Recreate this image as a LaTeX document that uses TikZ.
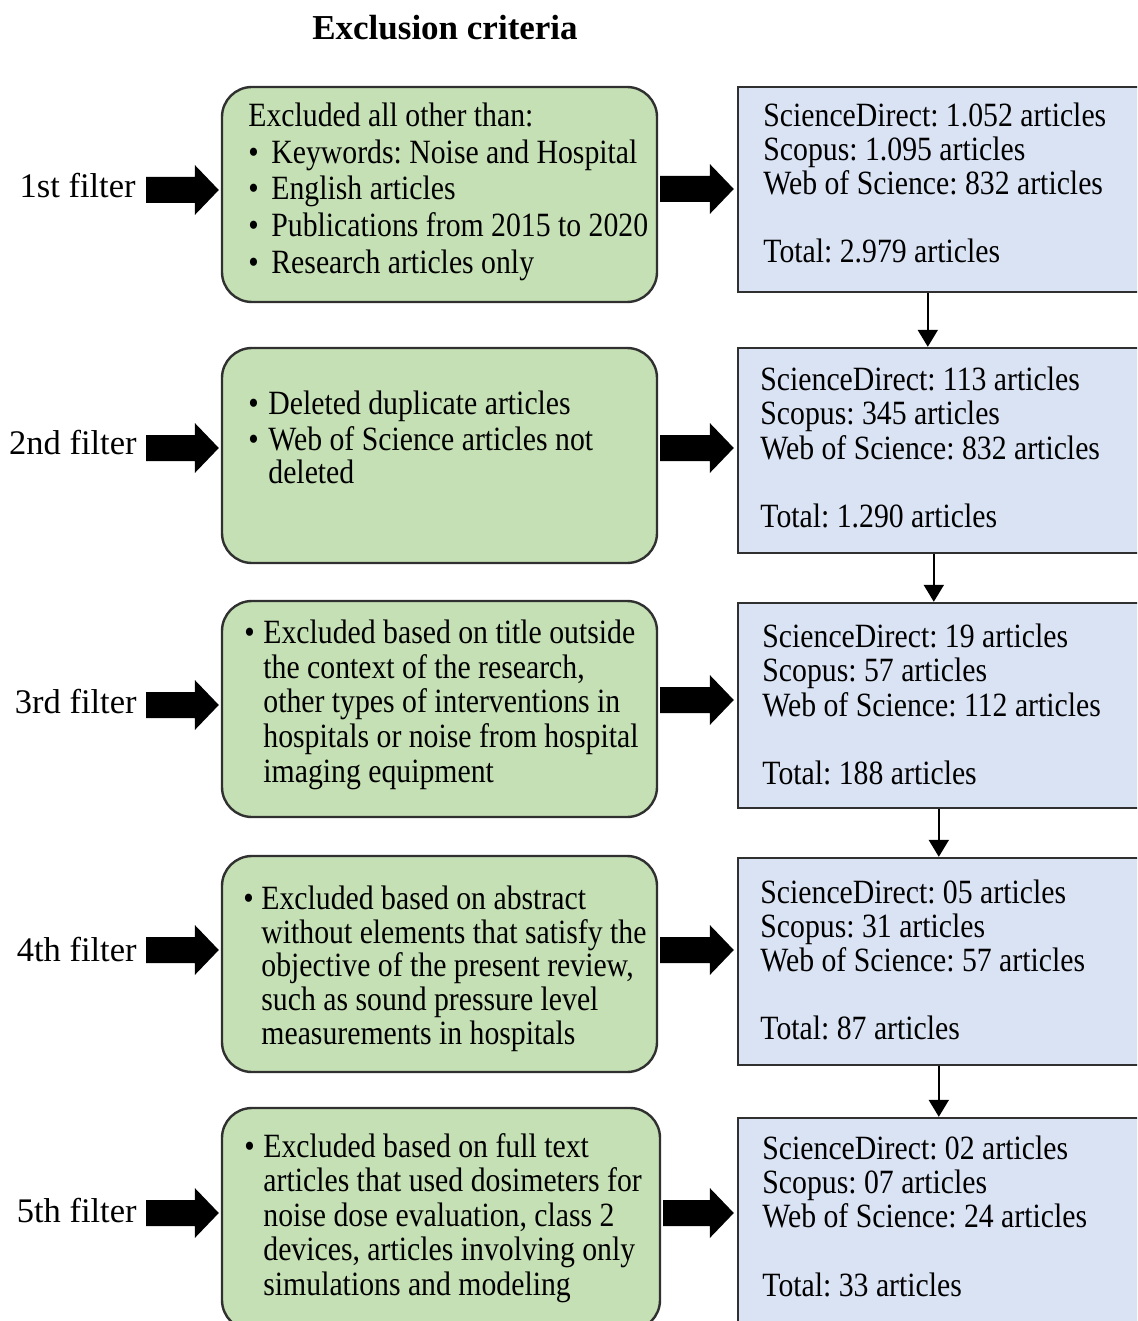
\documentclass[tikz,border=0pt]{standalone}
\usepackage{fontspec}
\setmainfont{Liberation Serif}
\newfontfamily\bodyf[FakeStretch=0.875]{Liberation Serif}
\usetikzlibrary{fit,calc,arrows.meta}
\definecolor{gfill}{HTML}{C5E0B4}
\definecolor{bfill}{HTML}{DAE3F3}
\definecolor{edgec}{HTML}{303030}
\frenchspacing
\newcommand\tst{\rule{0pt}{12.75pt}}
\newcommand\bul[1]{\makebox[#1][l]{•}}
\newcommand\bodyat[1]{\bodyf\fontsize{17}{#1}\selectfont\frenchspacing}
\newcommand\blkarr[2]{\fill[black] ($(#1)+(0,-13)$) -- ($(#2)+(-24,-13)$) -- ($(#2)+(-24,-25)$) -- (#2) -- ($(#2)+(-24,25)$) -- ($(#2)+(-24,13)$) -- ($(#1)+(0,13)$) -- cycle;}
\begin{document}
\begin{tikzpicture}[x=0.5pt,y=-0.5pt,
  gbox/.style={draw=edgec, line width=1.2pt, fill=gfill, rounded corners=15pt, inner sep=0pt},
  bbox/.style={draw=edgec, line width=1.2pt, fill=bfill, inner sep=0pt},
  txt/.style={anchor=north west, inner sep=0pt, align=left, yshift=12.75pt},
  lab/.style={anchor=base east, inner sep=0pt, font=\fontsize{17.25}{20}\selectfont},
  varr/.style={line width=1pt, draw=black, -{Triangle[length=8.5pt,width=10pt]}}]
\useasboundingbox (0,0) rectangle (1137,1321);
\clip (0,0) rectangle (1137,1321);
\fill[white] (0,0) rectangle (1137,1321);

% title
\node[anchor=base, inner sep=0pt, font=\bfseries\fontsize{17.5}{20}\selectfont] (title) at (445,40) {Exclusion criteria};

% boxes
\node[gbox, fit={(222,87) (657,302)}] (g1) {};
\node[gbox, fit={(222,348) (657,563)}] (g2) {};
\node[gbox, fit={(222,601) (657,817)}] (g3) {};
\node[gbox, fit={(222,856) (657,1072)}] (g4) {};
\node[gbox, fit={(222,1108) (660,1330)}] (g5) {};

\node[bbox, fit={(738,87) (1160,292)}] (b1) {};
\node[bbox, fit={(738,348) (1160,553)}] (b2) {};
\node[bbox, fit={(738,603) (1160,808)}] (b3) {};
\node[bbox, fit={(738,858) (1160,1065)}] (b4) {};
\node[bbox, fit={(738,1118) (1160,1360)}] (b5) {};

% labels
\node[lab] (l1) at (136,198) {1st filter};
\node[lab] (l2) at (137,454) {2nd filter};
\node[lab] (l3) at (137,713) {3rd filter};
\node[lab] (l4) at (137,961) {4th filter};
\node[lab] (l5) at (137,1222) {5th filter};

% green texts
\node[txt, font=\bodyat{18.375pt}] (t1) at (248,126) {\tst Excluded all other than:\\\bul{11.5pt}Keywords: Noise and Hospital\\\bul{11.5pt}English articles\\\bul{11.5pt}Publications from 2015 to 2020\\\bul{11.5pt}Research articles only};
\node[txt, font=\bodyat{16.25pt}] (t2) at (248,414) {\tst\bul{10pt}Deleted duplicate articles\\[2pt]\bul{10pt}Web of Science articles not\\\hspace*{10pt}deleted};
\node[txt, font=\bodyat{17.375pt}] (t3) at (244,643) {\tst\bul{9.5pt}Excluded based on title outside\\\hspace*{9.5pt}the context of the research,\\\hspace*{9.5pt}other types of interventions in\\\hspace*{9.5pt}hospitals or noise from hospital\\\hspace*{9.5pt}imaging equipment};
\node[txt, font=\bodyat{16.875pt}] (t4) at (243,909) {\tst\bul{9pt}Excluded based on abstract\\\hspace*{9pt}without elements that satisfy the\\\hspace*{9pt}objective of the present review,\\\hspace*{9pt}such as sound pressure level\\\hspace*{9pt}measurements in hospitals};
\node[txt, font=\bodyat{17.25pt}] (t5) at (244,1157) {\tst\bul{9.5pt}Excluded based on full text\\\hspace*{9.5pt}articles that used dosimeters for\\\hspace*{9.5pt}noise dose evaluation, class 2\\\hspace*{9.5pt}devices, articles involving only\\\hspace*{9.5pt}simulations and modeling};

% blue texts
\node[txt, font=\bodyat{17pt}] (s1) at (763,126) {\tst ScienceDirect: 1.052 articles\\Scopus: 1.095 articles\\Web of Science: 832 articles\\[17pt]Total: 2.979 articles};
\node[txt, font=\bodyat{17.15pt}] (s2) at (760,390) {\tst ScienceDirect: 113 articles\\Scopus: 345 articles\\Web of Science: 832 articles\\[17.15pt]Total: 1.290 articles};
\node[txt, font=\bodyat{17.15pt}] (s3) at (762,647) {\tst ScienceDirect: 19 articles\\Scopus: 57 articles\\Web of Science: 112 articles\\[17.15pt]Total: 188 articles};
\node[txt, font=\bodyat{17pt}] (s4) at (760,903) {\tst ScienceDirect: 05 articles\\Scopus: 31 articles\\Web of Science: 57 articles\\[17pt]Total: 87 articles};
\node[txt, font=\bodyat{17.1pt}] (s5) at (762,1159) {\tst ScienceDirect: 02 articles\\Scopus: 07 articles\\Web of Science: 24 articles\\[17.1pt]Total: 33 articles};

% block arrow anchors
\coordinate (la1) at (146,190);
\coordinate (la2) at (146,448);
\coordinate (la3) at (146,705);
\coordinate (la4) at (146,950);
\coordinate (la5) at (146,1213);
\path (la1 -| g1.west) ++(-2,0) coordinate (le1);
\path (la2 -| g2.west) ++(-2,0) coordinate (le2);
\path (la3 -| g3.west) ++(-2,0) coordinate (le3);
\path (la4 -| g4.west) ++(-2,0) coordinate (le4);
\path (la5 -| g5.west) ++(-2,0) coordinate (le5);
\blkarr{la1}{le1}
\blkarr{la2}{le2}
\blkarr{la3}{le3}
\blkarr{la4}{le4}
\blkarr{la5}{le5}

\coordinate (ra1) at (660,189);
\coordinate (ra2) at (660,448);
\coordinate (ra3) at (660,700);
\coordinate (ra4) at (660,950);
\coordinate (ra5) at (663,1213);
\path (ra1 -| b1.west) ++(-3,0) coordinate (re1);
\path (ra2 -| b2.west) ++(-3,0) coordinate (re2);
\path (ra3 -| b3.west) ++(-3,0) coordinate (re3);
\path (ra4 -| b4.west) ++(-3,0) coordinate (re4);
\path (ra5 -| b5.west) ++(-3,0) coordinate (re5);
\blkarr{ra1}{re1}
\blkarr{ra2}{re2}
\blkarr{ra3}{re3}
\blkarr{ra4}{re4}
\blkarr{ra5}{re5}

% vertical connectors
\draw[varr] ([xshift=95.5pt]b1.south west) -- ([xshift=95.5pt]b2.north west);
\draw[varr] ([xshift=98.5pt]b2.south west) -- ([xshift=98.5pt]b3.north west);
\draw[varr] ([xshift=101pt]b3.south west) -- ([xshift=101pt]b4.north west);
\draw[varr] ([xshift=101pt]b4.south west) -- ([xshift=101pt]b5.north west);
\end{tikzpicture}
\end{document}
